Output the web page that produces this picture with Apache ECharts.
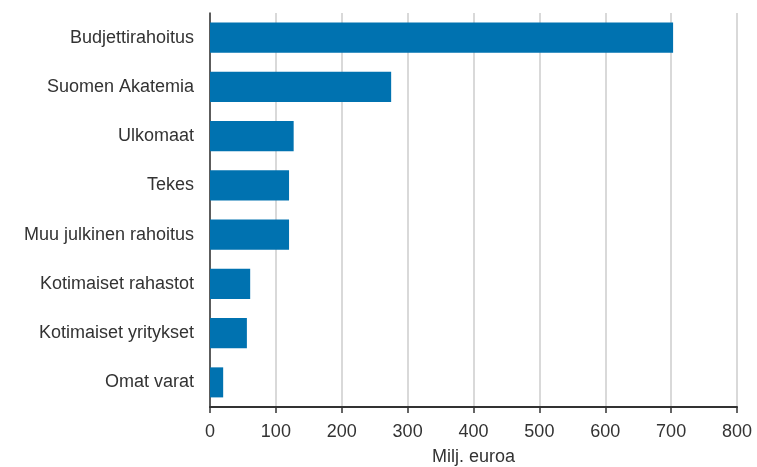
<!DOCTYPE html>
<html>
<head>
<meta charset="utf-8">
<script src="https://cdn.jsdelivr.net/npm/echarts@6/dist/echarts.min.js"></script>
<style>
  html, body { margin: 0; padding: 0; background: #fff; }
  #chart { width: 757px; height: 467px; }
</style>
</head>
<body>
<div id="chart"></div>
<script>
const categories = [
  "Budjettirahoitus",
  "Suomen Akatemia",
  "Ulkomaat",
  "Tekes",
  "Muu julkinen rahoitus",
  "Kotimaiset rahastot",
  "Kotimaiset yritykset",
  "Omat varat",
];
const values = [703, 275, 127, 120, 120, 61, 56, 20];
const xTicks = [0, 100, 200, 300, 400, 500, 600, 700, 800];
const axisName = "Milj. euroa";

const chart = echarts.init(document.getElementById("chart"));

const chartOptions = {
  animation: false,
  textStyle: {
    fontFamily: "Liberation Sans, Arial, sans-serif",
  },
  grid: {
    left: 210,
    right: 20,
    top: 13,
    bottom: 60,
    outerBoundsMode: "none",
  },
  xAxis: {
    type: "value",
    min: xTicks[0],
    max: xTicks[xTicks.length - 1],
    interval: xTicks[1] - xTicks[0],
    name: axisName,
    nameLocation: "middle",
    nameGap: 41,
    nameTextStyle: {
      color: "#333",
      fontSize: 18,
    },
    axisLine: {
      show: true,
      lineStyle: { color: "#333", width: 2 },
    },
    axisTick: {
      show: true,
      length: 6,
      lineStyle: { color: "#333", width: 1.5 },
    },
    axisLabel: {
      color: "#333",
      fontSize: 18,
      margin: 16,
    },
    splitLine: {
      show: true,
      lineStyle: { color: "#cccccc", width: 1.5 },
    },
  },
  yAxis: {
    type: "category",
    data: categories,
    inverse: true,
    axisLine: {
      show: true,
      lineStyle: { color: "#333", width: 1.5 },
    },
    axisTick: { show: false },
    axisLabel: {
      color: "#333",
      fontSize: 18,
      margin: 16,
    },
    splitLine: { show: false },
  },
  series: [
    {
      type: "bar",
      data: values,
      barWidth: "61%",
      itemStyle: { color: "#0072b0" },
    },
  ],
};

chart.setOption(chartOptions);
</script>
</body>
</html>
